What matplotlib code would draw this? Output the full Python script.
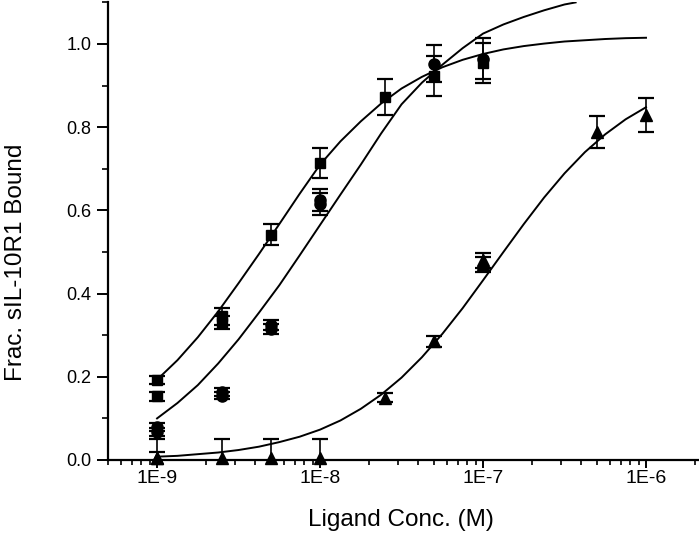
import numpy as np
import matplotlib
matplotlib.use("Agg")
import matplotlib.pyplot as plt
from matplotlib.ticker import FixedLocator, FuncFormatter, LogLocator, MultipleLocator

# measured points (concentration in M, fraction bound, error)
sq_conc = [1e-9, 1e-9, 2.5e-9, 2.5e-9, 5e-9, 1e-8, 2.5e-8, 5e-8, 1e-7]
sq_frac = [0.192, 0.153, 0.345, 0.330, 0.542, 0.714, 0.872, 0.922, 0.955]
sq_err = [0.010, 0.010, 0.020, 0.015, 0.026, 0.035, 0.043, 0.048, 0.048]

ci_conc = [1e-9, 1e-9, 2.5e-9, 2.5e-9, 5e-9, 5e-9, 1e-8, 1e-8, 5e-8, 1e-7]
ci_frac = [0.080, 0.068, 0.163, 0.155, 0.325, 0.315, 0.625, 0.615, 0.953, 0.965]
ci_err = [0.010, 0.010, 0.010, 0.008, 0.012, 0.012, 0.027, 0.027, 0.045, 0.050]

tri_conc = [1e-9, 1e-9, 2.5e-9, 5e-9, 1e-8, 2.5e-8, 5e-8, 1e-7, 1e-7, 5e-7, 1e-6]
tri_frac = [0.004, 0.004, 0.004, 0.004, 0.004, 0.150, 0.285, 0.480, 0.470, 0.789, 0.830]
tri_err = [0.046, 0.016, 0.046, 0.046, 0.046, 0.010, 0.013, 0.018, 0.018, 0.038, 0.041]

# fitted curves (1/8 decade steps)
fit_conc = [1.000e-9, 1.334e-9, 1.778e-9, 2.371e-9, 3.162e-9, 4.217e-9, 5.623e-9, 7.499e-9,
            1.000e-8, 1.334e-8, 1.778e-8, 2.371e-8, 3.162e-8, 4.217e-8, 5.623e-8, 7.499e-8,
            1.000e-7, 1.334e-7, 1.778e-7, 2.371e-7, 3.162e-7, 4.217e-7, 5.623e-7, 7.499e-7,
            1.000e-6]
sq_fit = [0.193, 0.240, 0.295, 0.357, 0.425, 0.495, 0.567, 0.640,
          0.710, 0.766, 0.814, 0.857, 0.893, 0.921, 0.944, 0.962,
          0.976, 0.987, 0.995, 1.001, 1.006, 1.009, 1.012, 1.014,
          1.015]
tri_fit = [0.008, 0.010, 0.014, 0.018, 0.024, 0.032, 0.043, 0.056,
           0.073, 0.095, 0.123, 0.157, 0.198, 0.247, 0.303, 0.365,
           0.432, 0.500, 0.567, 0.631, 0.689, 0.740, 0.783, 0.819,
           0.848]
ci_fit_conc = fit_conc[:21] + [3.7e-7]
ci_fit = [0.100, 0.137, 0.180, 0.232, 0.290, 0.354, 0.420, 0.492,
          0.565, 0.638, 0.710, 0.785, 0.855, 0.907, 0.950, 0.990,
          1.025, 1.047, 1.065, 1.081, 1.095, 1.100]

major_ticks = [1e-9, 1e-8, 1e-7, 1e-6]
tick_labels = ["1E-9", "1E-8", "1E-7", "1E-6"]

plt.rcParams['font.family'] = ['Liberation Sans', 'DejaVu Sans']

fig = plt.figure(figsize=(6.99, 5.34), dpi=100)
ax = fig.add_axes([108 / 699, 1 - 460 / 534, 591 / 699, 457.6 / 534])

ax.plot(fit_conc, sq_fit, color='black', lw=1.4)
ax.plot(ci_fit_conc, ci_fit, color='black', lw=1.4)
ax.plot(fit_conc, tri_fit, color='black', lw=1.4)

eb = dict(ls='none', marker='none', ecolor='black', elinewidth=1.2,
          capsize=6, capthick=1.6)
ax.errorbar(sq_conc, sq_frac, yerr=sq_err, **eb)
ax.errorbar(ci_conc, ci_frac, yerr=ci_err, **eb)
ax.errorbar(tri_conc, tri_frac, yerr=tri_err, **eb)

# markers drawn unclipped so the triangles on the baseline stay whole
ax.plot(sq_conc, sq_frac, ls='none', marker='s', ms=7, color='black', clip_on=False, zorder=3)
ax.plot(ci_conc, ci_frac, ls='none', marker='o', ms=8, color='black', clip_on=False, zorder=3)
ax.plot(tri_conc, tri_frac, ls='none', marker='^', ms=9, color='black', clip_on=False, zorder=3)

ax.set_xscale('log')
ax.set_xlim(5e-10, 10 ** (-6 + 53 / 163))
ax.set_ylim(0, 1.1)

ax.xaxis.set_major_locator(FixedLocator(major_ticks))
ax.xaxis.set_major_formatter(FuncFormatter(lambda v, p: tick_labels[major_ticks.index(v)] if v in major_ticks else ""))
ax.xaxis.set_minor_locator(LogLocator(base=10, subs=np.arange(2, 10)))
ax.xaxis.set_minor_formatter(FuncFormatter(lambda v, p: ""))
ax.yaxis.set_major_locator(FixedLocator([0.0, 0.2, 0.4, 0.6, 0.8, 1.0]))
ax.yaxis.set_major_formatter(FuncFormatter(lambda v, p: f"{v:.1f}"))
ax.yaxis.set_minor_locator(MultipleLocator(0.1))

for s in ['top', 'right']:
    ax.spines[s].set_visible(False)
for s in ['left', 'bottom']:
    ax.spines[s].set_linewidth(1.6)

ax.tick_params(axis='x', which='major', length=6, width=1.4, labelsize=14, pad=1)
ax.tick_params(axis='x', which='minor', length=3.5, width=1.2)
ax.tick_params(axis='y', which='major', length=8, width=1.4, labelsize=13, pad=4)
ax.tick_params(axis='y', which='minor', length=4.5, width=1.2)

ax.set_xlabel("Ligand Conc. (M)", fontsize=17.5)
ax.set_ylabel("Frac. sIL-10R1 Bound", fontsize=17.5)
ax.xaxis.set_label_coords(0.496, -0.131)
ax.xaxis.label.set_va('center')
ax.yaxis.set_label_coords(-0.156, 0.433)
ax.yaxis.label.set_va('center')

plt.savefig("out.png", dpi=100)
